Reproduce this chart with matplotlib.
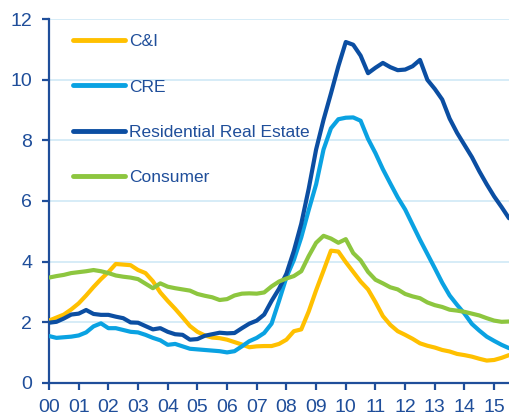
import numpy as np
import matplotlib.pyplot as plt

plt.rcParams.update({
    "font.family": ["Liberation Sans", "DejaVu Sans"],
    "font.size": 14,
})

NAVY = "#1F4E9A"
GRID = "#CFE9F6"

# quarterly, 2000Q1 .. 2015Q3 (years since 2000)
t = np.arange(63) * 0.25

cni = [2.05, 2.15, 2.25, 2.42, 2.62, 2.88, 3.16, 3.42, 3.65, 3.92, 3.90, 3.88,
       3.72, 3.62, 3.35, 2.98, 2.70, 2.44, 2.16, 1.87, 1.68, 1.56, 1.49, 1.47,
       1.42, 1.34, 1.26, 1.17, 1.20, 1.21, 1.21, 1.28, 1.42, 1.70, 1.76, 2.35,
       3.05, 3.70, 4.36, 4.33, 3.98, 3.66, 3.34, 3.08, 2.66, 2.20, 1.91, 1.70,
       1.58, 1.45, 1.30, 1.22, 1.16, 1.08, 1.03, 0.95, 0.91, 0.86, 0.79, 0.73,
       0.75, 0.82, 0.91]

cre = [1.54, 1.48, 1.50, 1.52, 1.56, 1.66, 1.86, 1.96, 1.80, 1.80, 1.74, 1.68,
       1.66, 1.58, 1.48, 1.40, 1.25, 1.28, 1.20, 1.12, 1.10, 1.08, 1.06, 1.04,
       1.00, 1.04, 1.20, 1.37, 1.48, 1.64, 1.95, 2.70, 3.48, 4.05, 4.80, 5.70,
       6.55, 7.70, 8.40, 8.70, 8.75, 8.76, 8.65, 8.05, 7.58, 7.05, 6.58, 6.12,
       5.72, 5.22, 4.72, 4.25, 3.78, 3.30, 2.88, 2.57, 2.28, 1.94, 1.72, 1.52,
       1.38, 1.25, 1.14]

rre = [1.98, 2.01, 2.12, 2.25, 2.28, 2.40, 2.27, 2.24, 2.24, 2.18, 2.13, 1.99,
       1.98, 1.87, 1.76, 1.80, 1.68, 1.60, 1.58, 1.42, 1.44, 1.55, 1.60, 1.65,
       1.63, 1.64, 1.80, 1.95, 2.05, 2.25, 2.70, 3.10, 3.60, 4.35, 5.25, 6.40,
       7.70, 8.68, 9.55, 10.45, 11.25, 11.16, 10.80, 10.22, 10.40, 10.56, 10.42, 10.32,
       10.34, 10.45, 10.66, 10.00, 9.70, 9.35, 8.72, 8.25, 7.85, 7.45, 6.98, 6.55,
       6.15, 5.80, 5.43]

consumer = [3.47, 3.52, 3.56, 3.62, 3.65, 3.68, 3.72, 3.68, 3.62, 3.54, 3.50, 3.47,
            3.42, 3.27, 3.12, 3.28, 3.17, 3.12, 3.08, 3.04, 2.93, 2.87, 2.82, 2.73,
            2.76, 2.88, 2.94, 2.95, 2.94, 2.98, 3.18, 3.34, 3.44, 3.52, 3.68, 4.18,
            4.62, 4.85, 4.76, 4.62, 4.74, 4.28, 4.04, 3.66, 3.40, 3.28, 3.15, 3.08,
            2.93, 2.85, 2.79, 2.65, 2.56, 2.50, 2.41, 2.38, 2.34, 2.28, 2.22, 2.13,
            2.05, 2.01, 2.02]

series = [
    ("C&I", cni, "#FFC000"),
    ("CRE", cre, "#0AA2E2"),
    ("Residential Real Estate", rre, "#0B4EA2"),
    ("Consumer", consumer, "#8DC63F"),
]

year_ticks = np.arange(16)
year_labels = [f"{y:02d}" for y in year_ticks]

fig = plt.figure(figsize=(5.09, 4.17), dpi=100)
ax = fig.add_axes([0.0963, 0.0823, 0.9037, 0.8714])

for name, vals, col in series:
    ax.plot(t, vals, color=col, lw=3, label=name, solid_capstyle="round", zorder=3)

ax.set_xlim(0, 15.5)
ax.set_ylim(0, 12)
ax.set_yticks(np.arange(0, 13, 2))
ax.set_xticks(year_ticks)
ax.set_xticklabels(year_labels)

ax.yaxis.grid(True, color=GRID, lw=1.2)
ax.set_axisbelow(True)

for s in ["top", "right"]:
    ax.spines[s].set_visible(False)
for s in ["left", "bottom"]:
    ax.spines[s].set_color(NAVY)
    ax.spines[s].set_linewidth(1.6)

ax.tick_params(colors=NAVY, labelcolor=NAVY, width=1.6, length=5, direction="out")
ax.tick_params(axis="y", pad=7)
ax.tick_params(axis="x", pad=7)

leg = ax.legend(
    loc="upper left",
    bbox_to_anchor=(0.052, 0.959),
    frameon=False,
    fontsize=12.5,
    handlelength=3.0,
    handletextpad=0.23,
    labelspacing=1.73,
    borderpad=0,
    borderaxespad=0,
)
for txt in leg.get_texts():
    txt.set_color(NAVY)
for ln in leg.get_lines():
    ln.set_linewidth(3.5)

fig.savefig("out.png", dpi=100)
